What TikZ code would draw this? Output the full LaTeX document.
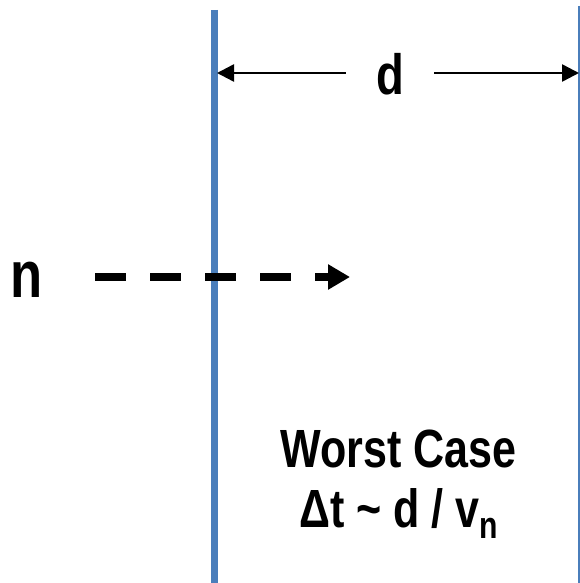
\documentclass[tikz,border=0pt]{standalone}
\usepackage{fontspec}
\setmainfont{Liberation Sans}[FakeStretch=0.8]
\usetikzlibrary{arrows.meta, positioning}
\definecolor{cblue}{HTML}{4A7EBB}
\tikzset{
  every picture/.style={font=\bfseries, x=1bp, y=-1bp},
  wall/.style={draw=cblue, line width=7bp},
  edge/.style={draw=cblue, line width=1.2bp},
  dim/.style={-{Triangle[length=17bp, width=17bp]}, line width=2.5bp},
  flight/.style={-{Triangle[length=22bp, width=24bp]}, line width=8bp, dash pattern=on 31bp off 24bp},
  txt/.style={anchor=base, inner sep=0pt},
}

\begin{document}
\begin{tikzpicture}
  \useasboundingbox (0,0) rectangle (580,583);

  % the two walls
  \coordinate (wtop) at (214.5,10);
  \coordinate (wbot) at (214.5,583);
  \draw[wall] (wtop) -- (wbot);
  \coordinate (etop) at (579,6);
  \coordinate (ebot) at (579,583);
  \draw[edge] (etop) -- (ebot);

  % distance between the walls
  \node[txt, inner xsep=30bp] (d) at (390,95) {\fontsize{57}{57}\selectfont d};
  \coordinate (lft) at (217,73);
  \coordinate (rgt) at (579,73);
  \draw[dim] (d.west |- lft) -- (lft);
  \draw[dim] (d.east |- rgt) -- (rgt);

  % incoming particle
  \node[txt] (n) at (27,297) {\fontsize{66}{66}\selectfont n};
  \coordinate (nbeg) at (95,277);
  \coordinate (nend) at (350,277);
  \draw[flight] (nbeg) -- (nend);

  % note
  \node[txt] (worst) at (398.5,467) {\fontsize{54}{60}\selectfont Worst Case};
  \node[txt] (dt) at (399,527) {\fontsize{54}{60}\selectfont Δt \textasciitilde{} d / v\textsubscript{n}};
\end{tikzpicture}
\end{document}
